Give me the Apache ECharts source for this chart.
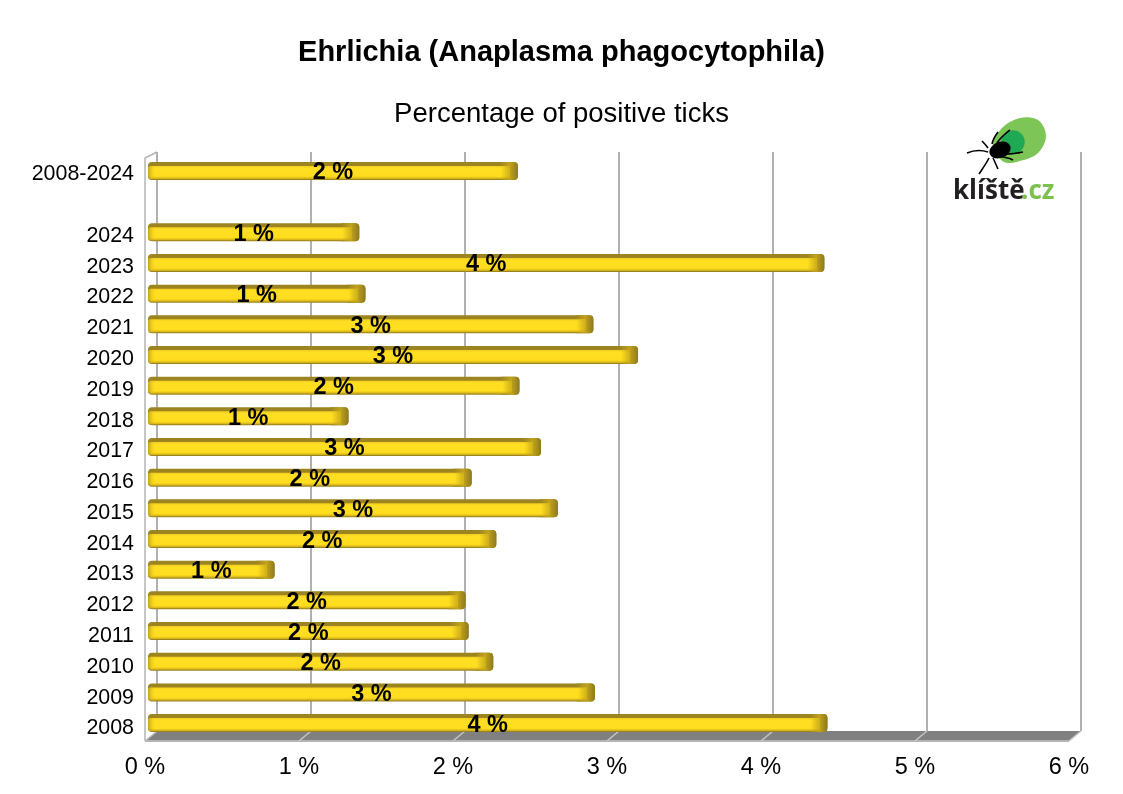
<!DOCTYPE html>
<html>
<head>
<meta charset="utf-8">
<title>Ehrlichia</title>
<script src="https://cdn.jsdelivr.net/npm/echarts@6/dist/echarts.min.js"></script>
<style>
html,body{margin:0;padding:0;background:#fff;}
#chart{width:1123px;height:794px;}
</style>
</head>
<body>
<div id="chart"></div>
<script>
var categories = ['2008-2024','','2024','2023','2022','2021','2020','2019','2018','2017','2016','2015','2014','2013','2012','2011','2010','2009','2008'];
var positive = [2.35,null,1.32,4.34,1.36,2.84,3.13,2.36,1.25,2.50,2.05,2.61,2.21,0.77,2.01,2.03,2.19,2.85,4.36];
var xTicks = [0,1,2,3,4,5,6];

var FONT = '"Liberation Sans", Arial, sans-serif';
var myChart = echarts.init(document.getElementById('chart'));

//bar data, the empty row is left out
var barData = [];
for(var i=0;i<categories.length;i++){
	if(positive[i]!==null){
		barData.push([positive[i],i]);
	}
}

//floor and walls behind the bars
function renderWall(params,api){
	var v = api.value(0);
	var p = api.coord([v,0]);
	var x = p[0], bottom = p[1];
	var top = api.coord([v,1])[1];
	var dx = 12, dy = 10;
	var children = [];
	if(v<xTicks[xTicks.length-1]){
		var x2 = api.coord([v+1,0])[0];
		children.push({type:'polygon',shape:{points:[[x,bottom],[x2,bottom],[x2-dx,bottom+dy],[x-dx,bottom+dy]]},style:{fill:'#808080'}});
		children.push({type:'line',shape:{x1:x-dx,y1:bottom+dy,x2:x2-dx,y2:bottom+dy},style:{stroke:'#b4b4b4',lineWidth:2}});
	}
	children.push({type:'line',shape:{x1:x,y1:bottom,x2:x-dx,y2:bottom+dy},style:{stroke:'#c4c4c4',lineWidth:1.5}});
	if(v==0){
		children.push({type:'polyline',shape:{points:[[x-dx,bottom+dy],[x-dx,top+6],[x,top]]},style:{fill:'none',stroke:'#b4b4b4',lineWidth:1.5}});
	}
	return {type:'group',children:children};
}

//one 3d looking bar
function renderBar(params,api){
	var val = api.value(0);
	var start = api.coord([0,api.value(1)]);
	var end = api.coord([val,api.value(1)]);
	var x0 = start[0], x1 = end[0], y = start[1];
	var depth = 8;
	return {type:'group',children:[
		{type:'rect',shape:{x:x0,y:y-9,width:x1-x0+depth,height:18,r:4},style:{fill:'#9c8520'}},
		{type:'rect',shape:{x:x1-10,y:y-9,width:10+depth,height:18,r:[0,4,4,0]},style:{fill:new echarts.graphic.LinearGradient(0,0,1,0,[
			{offset:0,color:'#9c8520'},{offset:0.55,color:'#c2a21c'},{offset:1,color:'#8c7a1e'}
		])}},
		{type:'rect',shape:{x:x0,y:y-5,width:x1-x0,height:13,r:[3,0,0,3]},style:{fill:new echarts.graphic.LinearGradient(0,0,0,1,[
			{offset:0,color:'#f2cf20'},{offset:0.2,color:'#ffdf22'},{offset:0.8,color:'#ffdc1e'},{offset:1,color:'#c9aa1a'}
		])}},
		{type:'rect',shape:{x:x0,y:y-5,width:8,height:13,r:[3,0,0,3]},style:{fill:new echarts.graphic.LinearGradient(0,0,1,0,[
			{offset:0,color:'rgba(170,140,20,0.7)'},{offset:1,color:'rgba(255,221,34,0)'}
		])}},
		{type:'rect',shape:{x:x1-9,y:y-5,width:9,height:13},style:{fill:new echarts.graphic.LinearGradient(0,0,1,0,[
			{offset:0,color:'rgba(190,160,24,0)'},{offset:1,color:'rgba(190,160,24,0.75)'}
		])}},
		{type:'text',x:(x0+x1+depth)/2,y:y+2,style:{text:Math.round(val)+' %',align:'center',verticalAlign:'middle',fill:'#000',font:'bold 23.5px '+FONT}}
	]};
}

//logo: legs as [x1,y1,cpx1,cpy1,cpx2,cpy2,x2,y2]
var logoLegs = [
	[992,144,993,139,995,136,998,132],
	[997,143,1001,137,1005,134,1010,130],
	[988,148,986,145,984,143,982,141],
	[988,152,982,150,974,150,967,153],
	[989,158,986,164,983,168,979,174],
	[993,158,995,162,996,165,998,169],
	[1000,156,1004,158,1008,157,1013,160],
	[1007,154,1012,154,1018,153,1023,152]
];
var logo = [
	{type:'polygon',shape:{points:[[993,146],[1002,128],[1020,118],[1038,120],[1046,136],[1038,153],[1020,161],[1004,162]],smooth:0.35},style:{fill:'#7cc556'}},
	{type:'circle',shape:{cx:1013,cy:142,r:11.7},style:{fill:'#1fa955'}},
	{type:'ellipse',shape:{cx:1000,cy:150,rx:11,ry:8},rotation:0.4,originX:1000,originY:150,style:{fill:'#000'}}
];
for(var k=0;k<logoLegs.length;k++){
	var g = logoLegs[k];
	logo.push({type:'bezierCurve',shape:{x1:g[0],y1:g[1],cpx1:g[2],cpy1:g[3],cpx2:g[4],cpy2:g[5],x2:g[6],y2:g[7]},style:{fill:'none',stroke:'#000',lineWidth:1.6}});
}
logo.push({type:'text',x:953,y:179,style:{text:'klíště',font:'bold 26px "Open Sans", sans-serif',fill:'#231f20'}});
logo.push({type:'text',x:1021,y:179,style:{text:'.cz',font:'bold 26px "Open Sans", sans-serif',fill:'#7cc04f'}});

var option = {
	backgroundColor:'#fff',
	animation:false,
	title:[
		{text:'Ehrlichia (Anaplasma phagocytophila)',left:'center',top:33,textStyle:{fontFamily:FONT,fontSize:29,fontWeight:'bold',color:'#000'}},
		{text:'Percentage of positive ticks',left:'center',top:95,textStyle:{fontFamily:FONT,fontSize:27.5,fontWeight:'normal',color:'#000'}}
	],
	grid:[
		{left:157,top:152,width:924,height:579},
		{left:145,top:159,width:924,height:584.8},
		{left:148,top:155.6,width:924,height:582.8}
	],
	xAxis:[
		{gridIndex:0,type:'value',min:0,max:6,interval:1,axisLabel:{show:false},axisLine:{show:false},axisTick:{show:false},splitLine:{show:true,lineStyle:{color:'#b0b0b0',width:2}}},
		{gridIndex:1,type:'value',min:0,max:6,interval:1,axisLine:{show:false},axisTick:{show:false},splitLine:{show:false},axisLabel:{margin:11.5,formatter:'{value} %',fontFamily:FONT,fontSize:23.5,color:'#000',hideOverlap:false,showMinLabel:true,showMaxLabel:true}},
		{gridIndex:2,type:'value',min:0,max:6,interval:1,show:false}
	],
	yAxis:[
		{gridIndex:0,type:'value',min:0,max:1,show:false},
		{gridIndex:1,type:'category',inverse:true,data:categories,axisLine:{show:false},axisTick:{show:false},axisLabel:{margin:11,interval:0,fontFamily:FONT,fontSize:21.4,color:'#000'}},
		{gridIndex:2,type:'category',inverse:true,data:categories,show:false}
	],
	series:[
		{type:'custom',name:'walls',xAxisIndex:0,yAxisIndex:0,coordinateSystem:'cartesian2d',clip:false,silent:true,z:1,renderItem:renderWall,encode:{x:0},data:xTicks.map(function(t){return [t,0];})},
		{type:'custom',name:'Percentage of positive ticks',xAxisIndex:2,yAxisIndex:2,coordinateSystem:'cartesian2d',clip:false,z:3,renderItem:renderBar,encode:{x:0,y:1},data:barData}
	],
	graphic:{elements:logo}
};
myChart.setOption(option);
</script>
</body>
</html>
